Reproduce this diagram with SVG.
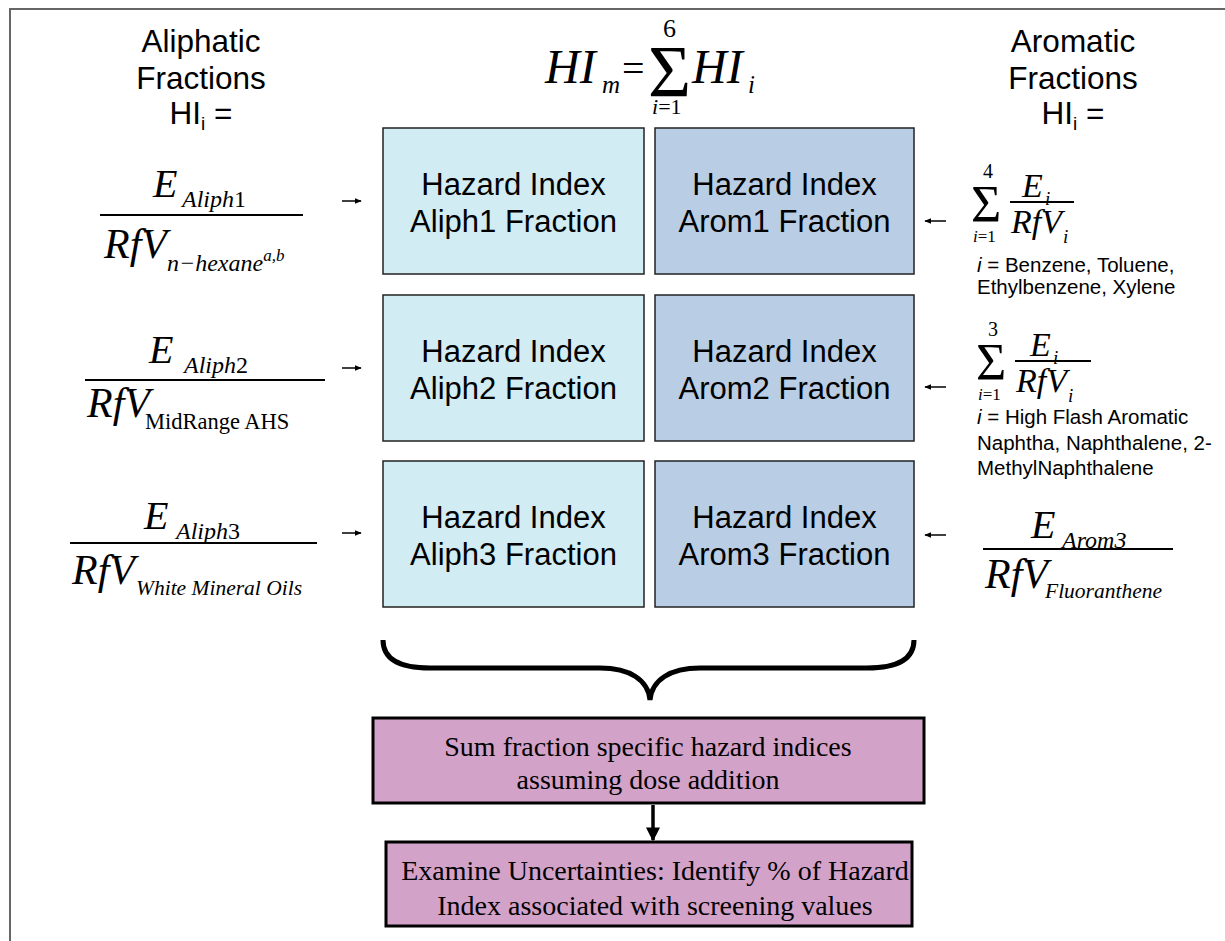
<svg xmlns="http://www.w3.org/2000/svg" width="1225" height="941" viewBox="0 0 1225 941">
<style>
.sans{font-family:"Liberation Sans",Arial,sans-serif;fill:#000}
.ser{font-family:"Liberation Serif","Times New Roman",serif;fill:#000}
.it{font-style:italic}
.hdr{font-size:31.5px;text-anchor:middle}
.box{font-size:31px;text-anchor:middle}
.sum{font-size:28px;text-anchor:middle}
.note{font-size:20.5px}
.aliph{fill:#D1ECF2;stroke:#222;stroke-width:1.5}
.arom{fill:#B9CDE5;stroke:#222;stroke-width:1.5}
.sumbox{fill:#D3A2C9;stroke:#000;stroke-width:3}
.frac{stroke:#000;stroke-width:2}
.conn{stroke:#000;stroke-width:1.5;fill:none}
.bigE{font-size:40px}
.rfv{font-size:42px}
.sub{font-size:24px}
</style>
<defs>
<marker id="ah" viewBox="0 0 10 10" refX="9" refY="5" markerWidth="4.5" markerHeight="4.5" orient="auto"><path d="M0,1 L10,5 L0,9 z" fill="#000"/></marker>
<marker id="ah2" viewBox="0 0 10 10" refX="9" refY="5" markerWidth="4" markerHeight="4" orient="auto"><path d="M0,0 L10,5 L0,10 z" fill="#000"/></marker>
</defs>
<rect width="1225" height="941" fill="#fff"/>
<path d="M10,941 L10,9 L1225,9" fill="none" stroke="#666" stroke-width="2"/>

<g id="header-aliphatic">
<text class="sans hdr" x="201" y="52">Aliphatic</text>
<text class="sans hdr" x="201" y="89">Fractions</text>
<text class="sans hdr" x="201" y="124">HI<tspan font-size="19" dy="6">i</tspan><tspan dy="-6"> =</tspan></text>
</g>
<g id="header-aromatic">
<text class="sans hdr" x="1073" y="52">Aromatic</text>
<text class="sans hdr" x="1073" y="89">Fractions</text>
<text class="sans hdr" x="1073" y="124">HI<tspan font-size="19" dy="6">i</tspan><tspan dy="-6"> =</tspan></text>
</g>
<g id="formula-total">
<text class="ser it" x="545" y="83" font-size="48">HI</text>
<text class="ser it" x="602" y="93" font-size="25">m</text>
<text class="ser" x="622" y="82" font-size="40">=</text>
<text class="ser" x="648" y="97" font-size="74">Σ</text>
<text class="ser" x="663" y="37" font-size="26">6</text>
<text class="ser" x="652" y="114" font-size="22"><tspan class="it">i</tspan>=1</text>
<text class="ser it" x="692" y="83" font-size="48">HI</text>
<text class="ser it" x="748" y="93" font-size="25">i</text>
</g>

<g id="n-aliph1"><rect class="aliph" x="383" y="128" width="261" height="146"/>
<text class="sans box" x="513.5" y="195">Hazard Index</text><text class="sans box" x="513.5" y="232">Aliph1 Fraction</text></g>
<g id="n-arom1"><rect class="arom" x="655" y="128" width="259" height="146"/>
<text class="sans box" x="784.5" y="195">Hazard Index</text><text class="sans box" x="784.5" y="232">Arom1 Fraction</text></g>
<g id="n-aliph2"><rect class="aliph" x="383" y="295" width="261" height="146"/>
<text class="sans box" x="513.5" y="362">Hazard Index</text><text class="sans box" x="513.5" y="399">Aliph2 Fraction</text></g>
<g id="n-arom2"><rect class="arom" x="655" y="295" width="259" height="146"/>
<text class="sans box" x="784.5" y="362">Hazard Index</text><text class="sans box" x="784.5" y="399">Arom2 Fraction</text></g>
<g id="n-aliph3"><rect class="aliph" x="383" y="461" width="261" height="146"/>
<text class="sans box" x="513.5" y="528">Hazard Index</text><text class="sans box" x="513.5" y="565">Aliph3 Fraction</text></g>
<g id="n-arom3"><rect class="arom" x="655" y="461" width="259" height="146"/>
<text class="sans box" x="784.5" y="528">Hazard Index</text><text class="sans box" x="784.5" y="565">Arom3 Fraction</text></g>

<g id="f-aliph1">
<text class="ser it bigE" x="153" y="197">E</text>
<text class="ser sub" x="182" y="207"><tspan class="it">Aliph</tspan>1</text>
<line class="frac" x1="100" y1="215" x2="303" y2="215"/>
<text class="ser it rfv" x="104" y="258">RfV</text>
<text class="ser it sub" x="167" y="271">n−hexane<tspan font-size="17" dy="-10">a,b</tspan></text>
</g>
<g id="f-aliph2">
<text class="ser it bigE" x="149" y="363">E</text>
<text class="ser sub" x="184" y="373"><tspan class="it">Aliph</tspan>2</text>
<line class="frac" x1="85" y1="380" x2="325" y2="380"/>
<text class="ser it rfv" x="87" y="417">RfV</text>
<text class="ser" x="145" y="429" font-size="22.5">MidRange AHS</text>
</g>
<g id="f-aliph3">
<text class="ser it bigE" x="144" y="529">E</text>
<text class="ser sub" x="176" y="539"><tspan class="it">Aliph</tspan>3</text>
<line class="frac" x1="70" y1="543" x2="317" y2="543"/>
<text class="ser it rfv" x="72" y="584">RfV</text>
<text class="ser it" x="136" y="595" font-size="21.5">White Mineral Oils</text>
</g>

<g id="f-arom1">
<text class="ser" x="971" y="222" font-size="52">Σ</text>
<text class="ser" x="983" y="178" font-size="20">4</text>
<text class="ser" x="973" y="242" font-size="17"><tspan class="it">i</tspan>=1</text>
<text class="ser it" x="1022" y="197" font-size="34">E</text>
<text class="ser it" x="1045" y="205" font-size="19">i</text>
<line class="frac" x1="1010" y1="202" x2="1074" y2="202"/>
<text class="ser it" x="1011" y="233" font-size="34">RfV</text>
<text class="ser it" x="1063" y="243" font-size="19">i</text>
<text class="sans note" x="977" y="272"><tspan class="it">i</tspan> = Benzene, Toluene,</text>
<text class="sans note" x="977" y="294">Ethylbenzene, Xylene</text>
</g>
<g id="f-arom2">
<text class="ser" x="976" y="380" font-size="52">Σ</text>
<text class="ser" x="988" y="336" font-size="20">3</text>
<text class="ser" x="978" y="400" font-size="17"><tspan class="it">i</tspan>=1</text>
<text class="ser it" x="1030" y="356" font-size="34">E</text>
<text class="ser it" x="1053" y="364" font-size="19">i</text>
<line class="frac" x1="1015" y1="361" x2="1091" y2="361"/>
<text class="ser it" x="1016" y="392" font-size="34">RfV</text>
<text class="ser it" x="1068" y="402" font-size="19">i</text>
<text class="sans note" x="977" y="424"><tspan class="it">i</tspan> = High Flash Aromatic</text>
<text class="sans note" x="977" y="450">Naphtha, Naphthalene, 2-</text>
<text class="sans note" x="977" y="475">MethylNaphthalene</text>
</g>
<g id="f-arom3">
<text class="ser it bigE" x="1031" y="538">E</text>
<text class="ser it sub" x="1062" y="548" font-size="23">Arom3</text>
<line class="frac" x1="983" y1="549" x2="1173" y2="549"/>
<text class="ser it rfv" x="985" y="588">RfV</text>
<text class="ser it" x="1045" y="598" font-size="21.5">Fluoranthene</text>
</g>

<g id="n-sum"><rect class="sumbox" x="373" y="718" width="551" height="85"/>
<text class="ser sum" x="648" y="756">Sum fraction specific hazard indices</text>
<text class="ser sum" x="648" y="789">assuming dose addition</text></g>
<g id="n-examine"><rect class="sumbox" x="386" y="842" width="526" height="84"/>
<text class="ser sum" x="655" y="880">Examine Uncertainties: Identify % of Hazard</text>
<text class="ser sum" x="655" y="915">Index associated with screening values</text></g>

<g id="connectors">
<line class="conn" x1="342" y1="201" x2="361" y2="201" marker-end="url(#ah)"/>
<line class="conn" x1="342" y1="368" x2="361" y2="368" marker-end="url(#ah)"/>
<line class="conn" x1="342" y1="533" x2="361" y2="533" marker-end="url(#ah)"/>
<line class="conn" x1="946" y1="221" x2="925" y2="221" marker-end="url(#ah)"/>
<line class="conn" x1="946" y1="387" x2="925" y2="387" marker-end="url(#ah)"/>
<line class="conn" x1="946" y1="535" x2="925" y2="535" marker-end="url(#ah)"/>
<path d="M383,640 C383,660 400,668 430,668 L600,668 C630,668 648,680 650,700 C652,680 670,668 700,668 L867,668 C897,668 914,660 914,640" fill="none" stroke="#000" stroke-width="5"/>
<line x1="653" y1="805" x2="653" y2="840" stroke="#000" stroke-width="3.5" marker-end="url(#ah2)"/>
</g>
</svg>
